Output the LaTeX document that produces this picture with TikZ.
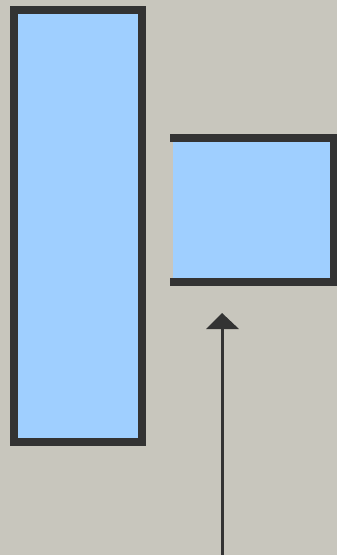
\documentclass[tikz,border=0pt]{standalone}
\definecolor{bg}{HTML}{C8C6BD}
\definecolor{edge}{HTML}{333333}
\definecolor{boxfill}{HTML}{9FCFFF}
\tikzset{
  px/.style={x=1pt,y=-1pt},
  frame/.style={draw=edge,line width=8pt,line join=miter,line cap=butt},
  shaft/.style={draw=edge,line width=3pt},
  tip/.style={fill=edge}
}
\begin{document}
\begin{tikzpicture}[px]
\fill[bg] (0,0) rectangle (337,555);
\useasboundingbox (0,0) rectangle (337,555);
% left tall box
\fill[boxfill] (14,10) rectangle (142,442);
\draw[frame] (14,10) rectangle (142,442);
% right box, open on the left
\fill[boxfill] (173,138) rectangle (334,282);
\draw[frame] (170,138) -- (334,138) -- (334,282) -- (170,282);
% arrow
\coordinate (start) at (222,555);
\coordinate (base) at (222,328);
\coordinate (apex) at (222,313);
\draw[shaft] (start) -- (base);
\fill[tip] (apex) -- (239,329) -- (206,329) -- cycle;
\end{tikzpicture}
\end{document}
